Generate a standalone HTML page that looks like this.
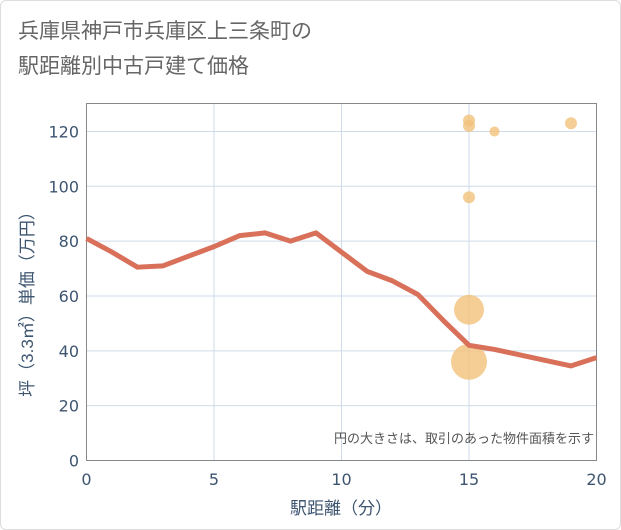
<!DOCTYPE html>
<html><head><meta charset="utf-8"><style>
body{margin:0;background:#fff;}
.wrap{position:relative;width:619px;height:528px;border:1px solid #ddd;border-radius:6px;background:#fff;font-family:"Liberation Sans","Noto Sans CJK JP",sans-serif;}
</style></head><body>
<div class="wrap">
<svg width="621" height="530" style="position:absolute;left:-1px;top:-1px">
<text x="18" y="38" font-size="21" fill="#666" font-family="Liberation Sans, Noto Sans CJK JP, sans-serif">兵庫県神戸市兵庫区上三条町の</text>
<text x="18" y="73" font-size="21" fill="#666" font-family="Liberation Sans, Noto Sans CJK JP, sans-serif">駅距離別中古戸建て価格</text>
<g id="grid"></g>
<rect x="86.5" y="103.5" width="510" height="357" fill="none" stroke="#888"/>
<g id="bubbles"></g>
<path id="line" fill="none" stroke="#d9705a" stroke-width="5" stroke-linejoin="round"/>
<g id="ticks" font-size="16" fill="#3d5570" font-family="DejaVu Sans, sans-serif"></g>
<text x="341" y="514" font-size="17" fill="#3d5570" text-anchor="middle" font-family="Liberation Sans, Noto Sans CJK JP, sans-serif">駅距離（分）</text>
<text transform="translate(33,300) rotate(-90)" font-size="17" fill="#3d5570" text-anchor="middle" font-family="Liberation Sans, Noto Sans CJK JP, sans-serif">坪（3.3㎡）単価（万円）</text>
<text x="594" y="443" font-size="13" fill="#555" text-anchor="end" font-family="Liberation Sans, Noto Sans CJK JP, sans-serif">円の大きさは、取引のあった物件面積を示す</text>
</svg>
</div>
<script>
const xTicks=[0,5,10,15,20];
const yTicks=[0,20,40,60,80,100,120];
const lineX=[0,1,2,3,4,5,6,7,8,9,10,11,12,13,14,15,16,17,18,19,20];
const lineY=[81,76,70.5,71,74.5,78,82,83,80,83,76,69,65.5,60.5,51,42,40.5,38.5,36.5,34.5,37.5];
const bubX=[15,15,16,19,15,15,15];
const bubY=[124,122,120,123,96,55,36];
const bubR=[6,6,5,6,6,15,18];
const NS="http://www.w3.org/2000/svg";
const sx=v=>86.5+v*25.5, sy=v=>460.5-v*2.742;
const grid=document.getElementById('grid'),ticks=document.getElementById('ticks');
xTicks.forEach(t=>{
 if(t>0&&t<20){const l=document.createElementNS(NS,'line');
 
 
 l.setAttribute('x1',sx(t));l.setAttribute('x2',sx(t));l.setAttribute('y1',103);l.setAttribute('y2',460);l.setAttribute('stroke','#cfdbe8');grid.appendChild(l);}
 const tx=document.createElementNS(NS,'text');
 
 
 tx.setAttribute('x',sx(t));tx.setAttribute('y',485);tx.setAttribute('text-anchor','middle');tx.textContent=t;ticks.appendChild(tx);
});
yTicks.forEach(t=>{
 if(t>0){const l=document.createElementNS(NS,'line');
 
 
 l.setAttribute('x1',86);l.setAttribute('x2',596);l.setAttribute('y1',sy(t));l.setAttribute('y2',sy(t));l.setAttribute('stroke','#cfdbe8');grid.appendChild(l);}
 const tx=document.createElementNS(NS,'text');
 
 
 tx.setAttribute('x',79);tx.setAttribute('y',sy(t)+6);tx.setAttribute('text-anchor','end');tx.textContent=t;ticks.appendChild(tx);
});
const bg=document.getElementById('bubbles');
bubX.forEach((x,i)=>{const c=document.createElementNS(NS,'circle');
 
 
 c.setAttribute('cx',sx(x));c.setAttribute('cy',sy(bubY[i]));c.setAttribute('r',bubR[i]);c.setAttribute('fill','#f3c27a');c.setAttribute('fill-opacity','0.8');bg.appendChild(c);});
document.getElementById('line').setAttribute('d',lineX.map((x,i)=>(i?'L':'M')+sx(x)+','+sy(lineY[i])).join(''));
</script>
</body></html>
